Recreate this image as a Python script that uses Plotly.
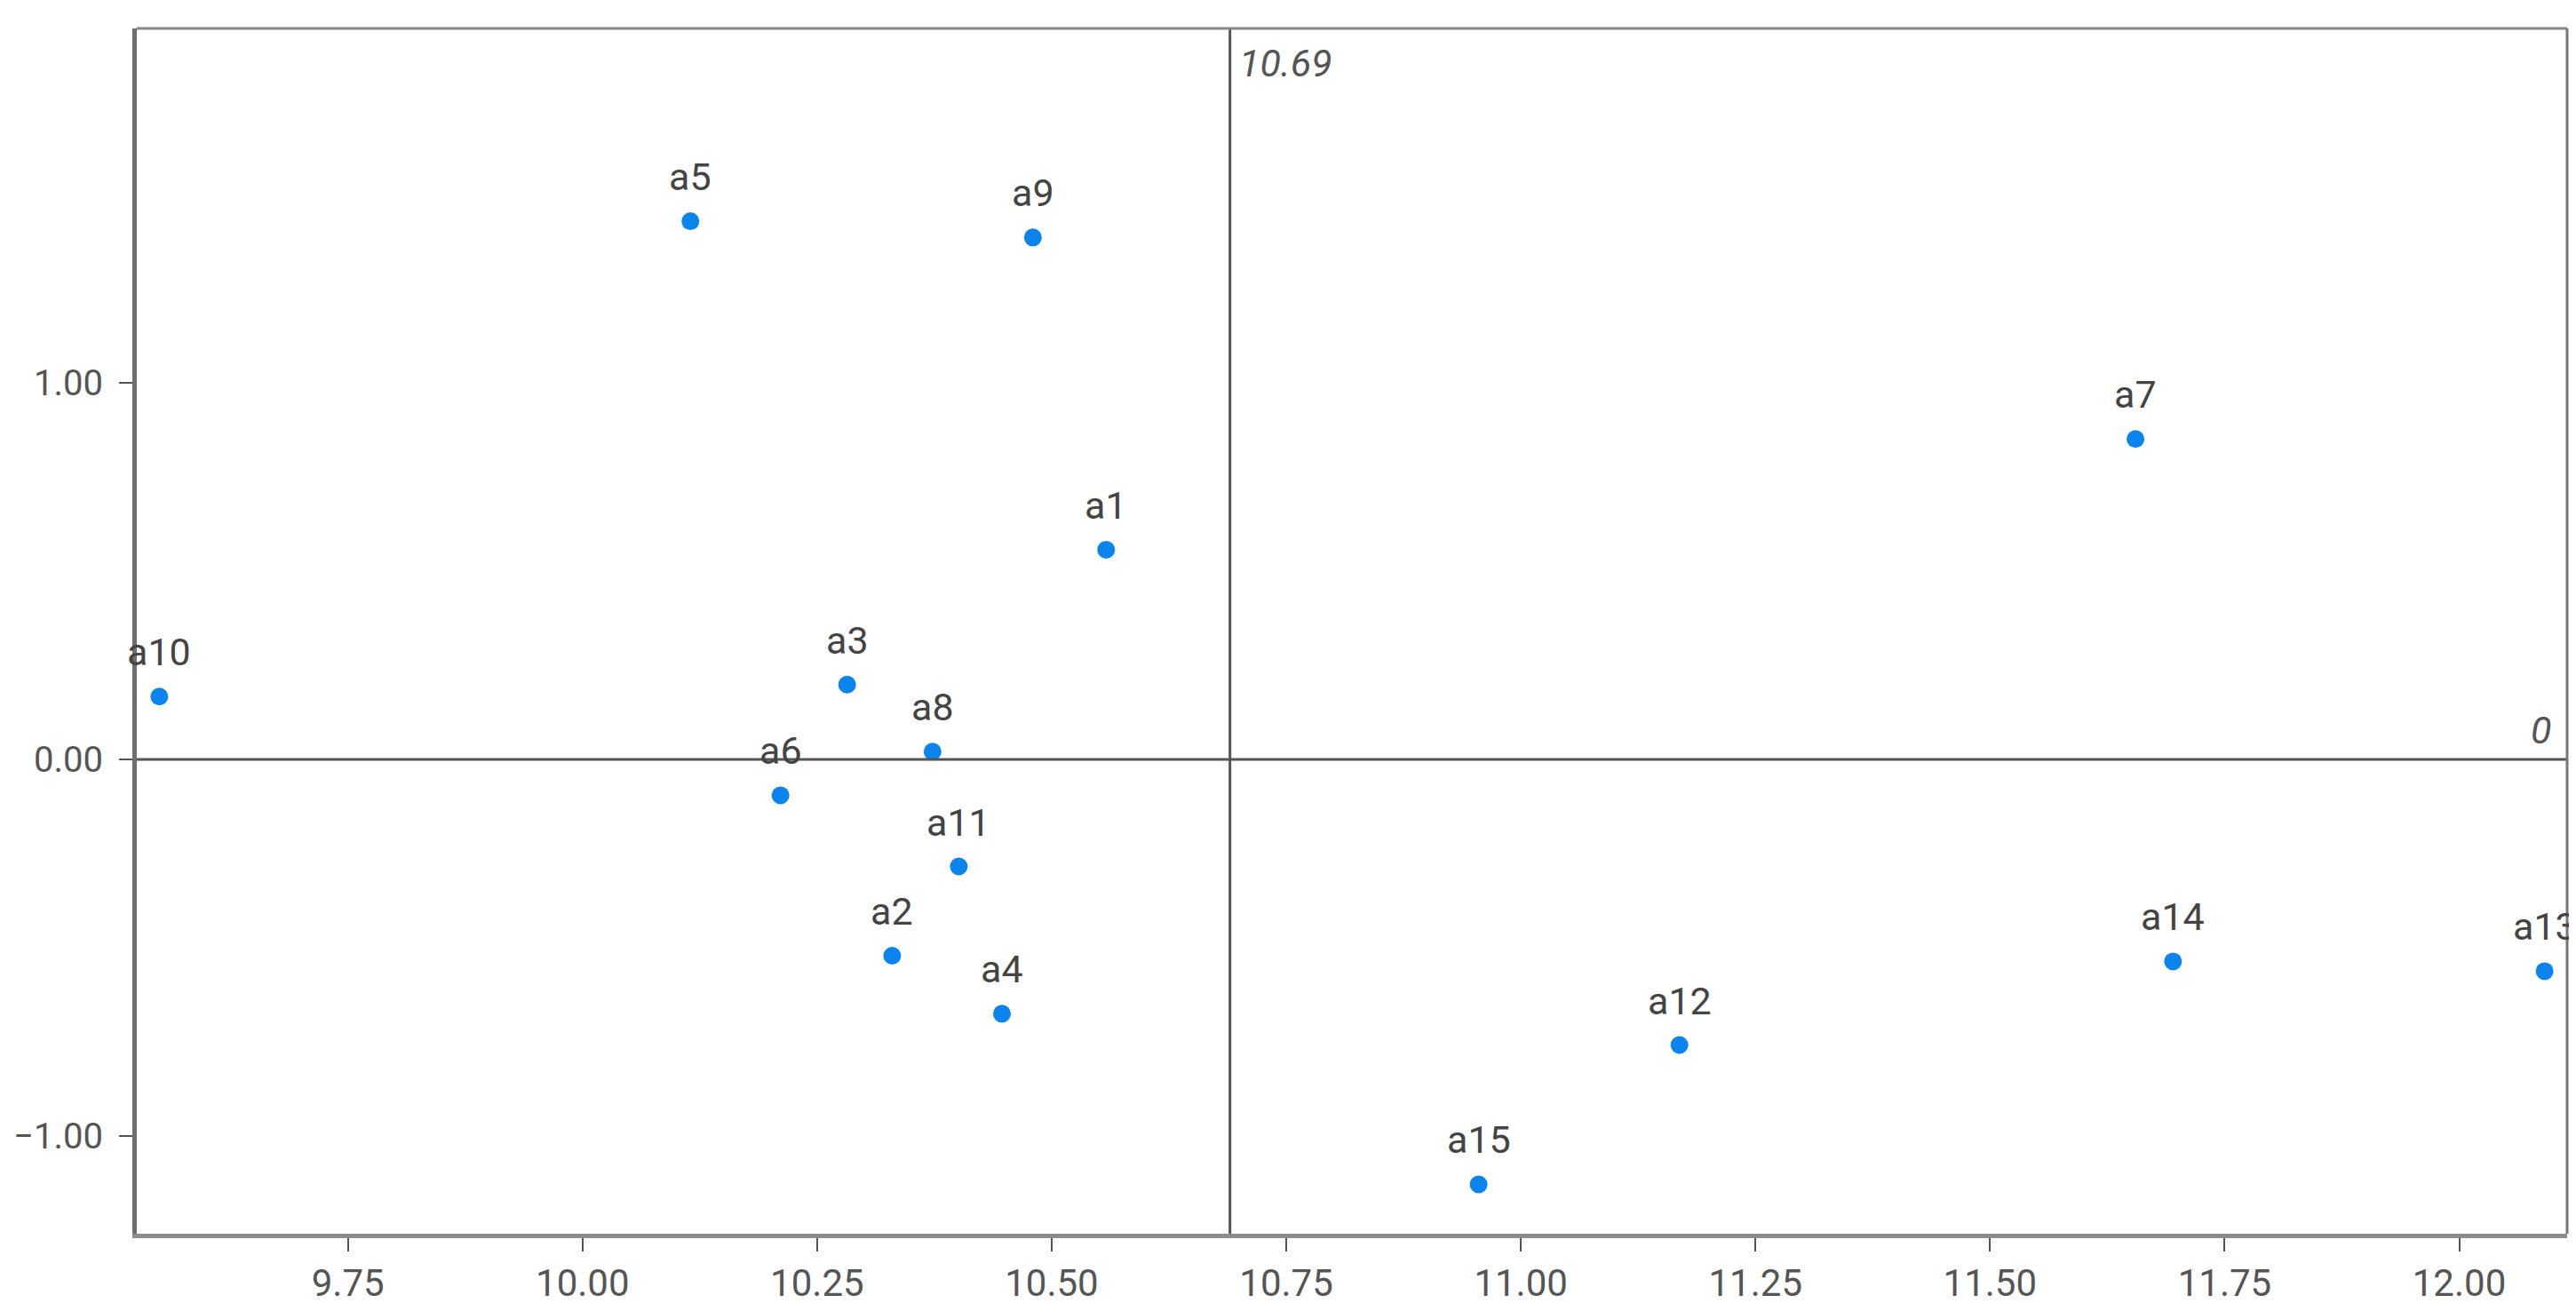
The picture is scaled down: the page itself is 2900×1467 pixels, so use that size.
import plotly.graph_objects as go

# point labels and coordinates
labels = ['a1', 'a2', 'a3', 'a4', 'a5', 'a6', 'a7', 'a8', 'a9', 'a10',
          'a11', 'a12', 'a13', 'a14', 'a15']
x_vals = [10.558, 10.330, 10.282, 10.447, 10.115, 10.211, 11.655, 10.373, 10.480, 9.549,
          10.401, 11.169, 12.091, 11.695, 10.955]
y_vals = [0.557, -0.521, 0.199, -0.675, 1.429, -0.095, 0.851, 0.021, 1.386, 0.167,
          -0.284, -0.758, -0.562, -0.536, -1.128]

# reference lines
x_ref = 10.69
y_ref = 0

x_range = [9.525, 12.115]
y_range = [-1.259, 1.941]

FONT = 'Roboto, Arial, sans-serif'

fig = go.Figure()
fig.add_trace(go.Scatter(
    x=x_vals, y=y_vals, mode='markers',
    marker=dict(size=20, color='#0b84ee'),
    cliponaxis=False, showlegend=False))

# labels above each point
for lab, xv, yv in zip(labels, x_vals, y_vals):
    fig.add_annotation(x=xv, y=yv, text=lab, showarrow=False,
                       yanchor='bottom', yshift=23,
                       font=dict(family=FONT, size=43, color='#444'))

# quadrant lines
fig.add_shape(type='line', xref='x', yref='paper', x0=x_ref, x1=x_ref, y0=0, y1=1,
              line=dict(color='#555', width=3))
fig.add_shape(type='line', xref='paper', yref='y', x0=0, x1=1, y0=y_ref, y1=y_ref,
              line=dict(color='#555', width=3))
# thin top / right frame
fig.add_shape(type='line', xref='paper', yref='paper', x0=0, x1=1, y0=1, y1=1,
              line=dict(color='#888', width=3))
fig.add_shape(type='line', xref='paper', yref='paper', x0=1, x1=1, y0=0, y1=1,
              line=dict(color='#777', width=3))

fig.add_annotation(x=x_ref, y=1, xref='x', yref='paper', text=f'<i>{x_ref:.2f}</i>',
                   showarrow=False, xanchor='left', yanchor='top', xshift=8, yshift=-12,
                   font=dict(family=FONT, size=43, color='#555'))
fig.add_annotation(x=1, y=y_ref, xref='paper', yref='y', text=f'<i>{y_ref}</i>',
                   showarrow=False, xanchor='right', yanchor='bottom', xshift=-16, yshift=6,
                   font=dict(family=FONT, size=43, color='#555'))

fig.update_xaxes(range=x_range, dtick=0.25, tick0=0, tickformat='.2f',
                 showgrid=False, zeroline=False, showline=True,
                 linecolor='#8c8c8c', linewidth=5,
                 ticks='outside', ticklen=15, tickwidth=2, tickcolor='#555',
                 automargin=False,
                 tickfont=dict(family=FONT, size=42, color='#555'))
fig.update_yaxes(range=y_range, dtick=1, tick0=0, tickformat='.2f',
                 showgrid=False, zeroline=False, showline=True,
                 linecolor='#6e6e6e', linewidth=5,
                 ticks='outside', ticklen=15, tickwidth=2, tickcolor='#555',
                 ticklabelstandoff=10, automargin=False,
                 tickfont=dict(family=FONT, size=40, color='#555'))

fig.update_layout(width=2900, height=1467,
                  margin=dict(l=146, r=18, t=24, b=86),
                  plot_bgcolor='white', paper_bgcolor='white')

fig.write_html("out.html")
